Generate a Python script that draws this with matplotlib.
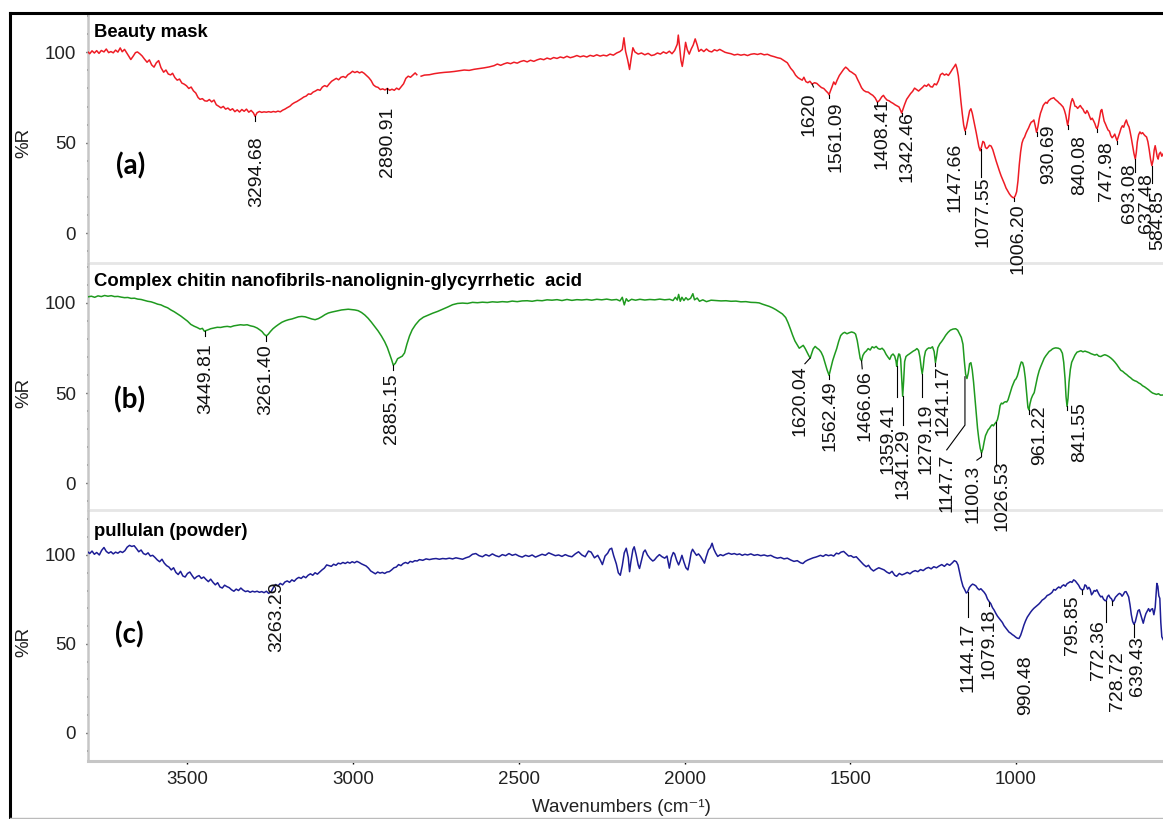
import numpy as np
import matplotlib
matplotlib.use('Agg')
import matplotlib.pyplot as plt
from matplotlib.lines import Line2D
from matplotlib.ticker import MultipleLocator, FixedLocator

nan = np.nan

# ---- spectra: (wavenumber cm-1, %R) ----
mask = [(3802,100.5),(3795,99.2),(3788,100.8),(3781,99.6),(3774,100.9),(3767,99.4),(3760,101.0),(3752,100.2),
        (3745,101.8),(3738,99.8),(3731,100.4),(3724,99.7),(3717,101.2),(3710,100.1),(3703,102.4),(3697,100.3),
        (3690,101.6),(3683,99.6),(3676,97.5),(3671,96.0),(3664,97.8),(3657,99.8),(3651,100.2),(3644,99.2),
        (3637,98.0),(3630,96.3),(3622,94.5),(3615,95.8),(3608,93.0),(3601,91.8),(3594,94.2),(3587,95.4),
        (3580,91.5),(3572,89.0),(3565,90.2),(3558,88.0),(3551,87.5),(3545,88.4),(3538,86.0),(3531,84.6),
        (3524,85.2),(3517,83.0),(3510,82.4),(3503,81.5),(3496,80.0),(3489,80.8),(3482,78.7),(3475,77.5),
        (3468,75.0),(3462,74.0),(3455,74.4),(3448,73.2),(3441,73.0),(3434,73.9),(3427,72.6),(3420,73.6),
        (3413,71.0),(3406,70.2),(3399,69.3),(3392,70.1),(3385,68.6),(3378,69.2),(3371,68.0),(3364,68.8),
        (3357,67.2),(3350,68.2),(3343,67.0),(3336,68.4),(3329,67.4),(3322,68.6),(3315,66.9),(3308,67.9),
        (3301,66.5),(3296,64.6),(3290,66.6),(3283,67.3),(3276,66.8),(3269,67.1),(3262,66.9),(3255,67.2),
        (3248,66.9),(3241,67.3),(3234,67.0),(3227,67.5),(3220,67.1),(3213,68.0),(3206,68.6),(3199,69.4),
        (3191,70.2),(3184,71.4),(3177,72.2),(3170,72.8),(3163,73.6),(3156,74.4),(3149,75.3),(3142,75.8),
        (3135,77.0),(3128,76.8),(3121,78.0),(3114,78.6),(3107,79.4),(3100,79.0),(3093,80.8),(3086,81.6),
        (3079,81.0),(3072,82.6),(3065,84.0),(3058,84.8),(3051,85.6),(3044,84.8),(3037,86.2),(3030,86.6),
        (3023,86.0),(3016,87.6),(3009,88.4),(3002,89.5),(2995,88.8),(2988,89.4),(2981,88.6),(2974,89.2),
        (2967,88.4),(2960,87.2),(2953,86.0),(2946,84.4),(2939,82.0),(2932,81.0),(2925,80.6),(2918,79.4),
        (2911,79.8),(2904,79.2),(2897,80.0),(2890,79.0),(2883,79.6),(2876,79.0),(2869,80.2),(2862,79.4),
        (2855,81.0),(2848,82.6),(2841,85.6),(2834,86.8),(2827,86.2),(2820,87.4),(2813,88.6),(2808,87.6),
        (2804,nan),(2795,86.8),(2785,87.4),(2770,87.6),(2755,88.2),(2740,88.6),(2725,88.9),(2710,89.1),
        (2695,89.4),(2680,89.8),(2665,90.2),(2650,90.0),(2635,90.6),(2620,91.0),(2605,91.4),(2590,91.9),
        (2575,92.6),(2565,93.5),(2555,92.8),(2545,93.6),(2535,94.2),(2525,93.7),(2515,94.5),(2505,94.0),
        (2495,94.9),(2485,95.4),(2475,94.7),(2465,95.6),(2455,95.0),(2445,95.8),(2435,96.4),(2425,95.9),
        (2415,96.8),(2405,96.2),(2395,97.1),(2385,96.6),(2375,97.4),(2365,96.9),(2355,97.8),(2345,97.0),
        (2335,97.5),(2325,98.2),(2315,97.5),(2305,98.0),(2295,97.4),(2285,98.3),(2275,97.8),(2265,98.6),
        (2255,97.9),(2245,98.4),(2235,98.0),(2225,99.0),(2215,98.4),(2205,99.6),(2195,100.4),(2188,101.5),
        (2183,108.0),(2178,100.5),(2172,96.0),(2166,90.5),(2161,96.8),(2156,102.5),(2150,100.2),(2140,99.0),
        (2130,99.6),(2120,98.6),(2110,99.4),(2100,98.2),(2091,98.6),(2082,99.6),(2073,99.0),(2064,100.2),
        (2055,99.4),(2046,100.6),(2038,99.2),(2030,101.0),(2022,104.5),(2019,109.5),(2015,103.0),(2011,95.5),
        (2007,92.2),(2002,98.0),(1997,105.5),(1992,101.5),(1986,99.0),(1980,101.8),(1974,104.0),(1968,107.4),
        (1962,104.0),(1957,100.5),(1950,101.6),(1942,100.4),(1934,101.8),(1926,100.6),(1918,100.2),(1910,101.4),
        (1902,100.8),(1894,101.6),(1886,100.8),(1878,100.0),(1870,99.6),(1860,99.2),(1850,98.5),(1840,98.9),
        (1830,98.4),(1820,98.8),(1810,98.2),(1800,98.9),(1790,99.2),(1780,98.8),(1770,99.3),(1760,98.6),
        (1750,98.9),(1740,98.1),(1730,97.6),(1720,97.0),(1710,96.6),(1700,95.4),(1690,94.2),(1680,91.2),
        (1672,89.5),(1665,87.3),(1658,86.0),(1651,85.2),(1645,84.6),(1640,86.2),(1634,83.8),(1628,83.2),
        (1622,84.0),(1615,82.4),(1608,83.2),(1601,82.8),(1594,81.6),(1587,80.5),(1580,80.0),(1573,78.6),
        (1567,77.5),(1564,76.5),(1560,78.6),(1555,81.0),(1550,83.6),(1545,82.2),(1540,84.5),(1533,87.2),
        (1526,89.0),(1520,90.6),(1514,91.8),(1508,90.9),(1502,89.6),(1496,89.0),(1490,88.2),(1484,87.4),
        (1478,85.0),(1472,82.8),(1466,80.4),(1460,79.0),(1453,78.2),(1446,78.0),(1439,77.0),(1432,76.2),
        (1425,74.8),(1418,72.4),(1412,73.4),(1405,75.4),(1400,76.2),(1395,74.8),(1389,73.6),(1383,73.2),
        (1377,72.4),(1371,71.8),(1365,71.0),(1359,70.4),(1353,69.8),(1348,67.8),(1345,66.4),(1341,68.6),
        (1336,71.2),(1330,74.0),(1324,75.6),(1318,77.2),(1312,78.4),(1306,80.2),(1300,79.4),(1294,78.6),
        (1288,79.6),(1282,80.6),(1276,81.8),(1270,81.2),(1264,82.4),(1258,81.0),(1252,80.8),(1246,82.6),
        (1240,82.0),(1234,84.2),(1228,87.6),(1222,88.4),(1216,87.4),(1210,88.0),(1204,87.2),(1198,88.8),
        (1192,90.6),(1186,92.2),(1182,93.4),(1178,91.0),(1174,87.0),(1170,80.2),(1166,72.6),(1162,66.0),
        (1158,60.0),(1154,56.6),(1150,58.4),(1145,63.0),(1140,67.6),(1136,68.8),(1132,66.4),(1128,62.8),
        (1124,59.4),(1120,55.6),(1116,51.6),(1112,47.8),(1108,45.6),(1104,47.8),(1100,50.8),(1096,50.2),
        (1092,47.4),(1088,46.8),(1084,47.6),(1080,48.6),(1075,48.2),(1070,46.2),(1065,43.0),(1060,40.0),
        (1055,37.2),(1050,34.4),(1045,31.8),(1040,29.6),(1035,27.4),(1030,25.0),(1025,23.4),(1020,21.8),
        (1015,20.6),(1010,19.8),(1006,19.6),(1002,20.8),(998,23.0),(994,29.0),(990,38.0),(986,45.0),
        (982,49.8),(978,52.0),(974,53.2),(970,55.2),(966,56.8),(962,58.2),(958,60.0),(954,61.4),
        (950,61.8),(946,62.6),(942,59.4),(938,55.8),(934,58.6),(930,63.2),(926,66.4),(922,68.4),
        (918,70.6),(914,71.6),(910,72.4),(906,71.8),(902,73.2),(898,73.8),(894,74.4),(890,74.6),
        (886,74.9),(882,74.0),(878,73.4),(874,72.8),(870,72.0),(866,71.4),(862,70.6),(858,69.8),
        (854,68.0),(850,65.4),(846,61.4),(844,59.6),(841,63.0),(838,68.0),(834,72.2),(830,74.4),
        (826,72.8),(822,70.2),(818,70.0),(814,69.0),(810,69.8),(806,70.6),(802,69.4),(798,68.6),
        (794,67.0),(790,66.2),(786,67.8),(782,66.6),(778,64.6),(774,62.8),(770,63.6),(766,62.2),
        (762,60.6),(758,58.4),(755,57.8),(752,59.6),(748,63.6),(744,67.8),(741,68.4),(738,65.6),
        (734,62.0),(730,60.4),(726,58.6),(722,57.0),(718,56.4),(714,54.0),(710,52.8),(706,53.6),
        (702,54.8),(698,52.6),(695,51.2),(691,53.4),(687,55.6),(683,58.0),(679,59.4),(675,58.6),
        (671,61.0),(667,62.6),(663,60.2),(659,58.8),(656,56.4),(652,52.6),(648,48.4),(644,44.0),
        (640,41.0),(637,44.6),(634,50.4),(630,54.4),(626,56.0),(622,55.0),(618,55.6),(614,54.6),
        (610,53.8),(606,53.2),(602,50.6),(598,46.2),(594,41.0),(590,37.4),(586,40.6),(583,46.0),
        (580,48.4),(577,45.6),(574,42.4),(571,41.0),(568,43.8),(564,44.8),(560,42.6),(556,43.9)]

chitin = [(3802,103.2),(3790,103.6),(3780,103.0),(3770,103.8),(3760,103.4),(3750,104.0),(3740,103.6),(3730,103.9),
          (3720,103.4),(3710,103.5),(3700,103.1),(3690,102.8),(3680,102.9),(3670,102.4),(3660,102.5),(3650,102.0),
          (3640,101.8),(3630,101.3),(3620,100.8),(3610,100.5),(3600,99.9),(3590,99.2),(3580,98.8),(3570,97.9),
          (3560,97.2),(3550,96.0),(3540,95.0),(3530,93.8),(3520,92.6),(3510,91.2),(3500,89.8),(3490,88.0),
          (3480,87.0),(3470,86.2),(3462,85.4),(3455,85.8),(3449,84.2),(3444,84.6),(3438,85.0),(3430,85.6),
          (3420,86.0),(3410,86.4),(3400,86.3),(3390,86.7),(3380,86.9),(3370,86.6),(3360,87.2),(3350,87.5),
          (3340,87.8),(3330,87.6),(3320,87.8),(3310,87.2),(3300,86.8),(3290,86.0),(3282,85.0),(3275,84.0),
          (3268,82.4),(3262,81.6),(3256,82.6),(3250,84.0),(3242,85.6),(3234,86.8),(3225,88.0),(3215,89.2),
          (3205,90.0),(3195,90.6),(3185,91.0),(3175,91.6),(3165,92.2),(3155,92.4),(3145,92.2),(3135,91.6),
          (3125,91.0),(3115,90.6),(3105,91.2),(3095,92.2),(3085,93.4),(3075,94.3),(3065,94.8),(3055,95.2),
          (3045,95.6),(3035,96.0),(3025,96.2),(3015,96.4),(3005,96.2),(2995,96.0),(2985,95.6),(2975,94.6),
          (2965,93.2),(2955,91.4),(2945,89.2),(2935,86.8),(2925,84.4),(2915,81.6),(2905,78.4),(2897,75.2),
          (2890,71.6),(2884,68.4),(2879,65.4),(2873,66.4),(2866,69.0),(2860,69.6),(2852,70.4),(2845,72.2),
          (2838,77.0),(2830,81.6),(2822,85.0),(2812,87.8),(2800,90.4),(2788,92.0),(2775,93.0),(2760,94.2),
          (2745,95.2),(2730,96.4),(2715,97.6),(2700,98.9),(2685,99.6),(2670,99.8),(2655,99.6),(2640,100.2),
          (2625,100.0),(2610,100.3),(2595,100.1),(2580,100.5),(2565,100.3),(2550,100.6),(2535,100.4),(2520,100.9),
          (2505,100.6),(2490,101.0),(2475,101.1),(2460,100.8),(2445,101.3),(2430,101.1),(2415,101.6),(2400,101.4),
          (2385,101.7),(2370,101.2),(2355,101.8),(2340,101.3),(2325,101.7),(2310,101.5),(2295,101.8),(2280,101.4),
          (2265,101.9),(2250,101.6),(2235,102.0),(2220,101.5),(2205,101.8),(2195,101.0),(2188,103.0),(2182,98.8),
          (2176,102.2),(2170,100.8),(2160,101.9),(2148,101.4),(2135,101.9),(2120,101.5),(2105,101.8),(2090,101.6),
          (2075,102.0),(2060,101.6),(2045,101.9),(2035,101.2),(2028,103.0),(2022,101.5),(2018,104.6),(2013,100.8),
          (2008,103.0),(2002,101.2),(1996,102.8),(1990,101.6),(1982,102.4),(1975,105.0),(1970,101.6),(1962,102.6),
          (1955,100.8),(1945,101.6),(1934,100.6),(1920,101.4),(1905,101.2),(1890,101.0),(1875,101.1),(1860,100.8),
          (1845,100.9),(1830,100.5),(1815,100.6),(1800,100.2),(1785,100.1),(1775,99.9),(1765,99.2),(1755,98.6),
          (1745,98.0),(1735,97.2),(1725,96.2),(1715,95.0),(1705,93.8),(1695,91.8),(1688,89.0),(1681,85.6),
          (1674,82.0),(1667,78.8),(1660,76.6),(1654,74.8),(1648,75.6),(1642,76.4),(1636,74.6),(1630,72.4),
          (1625,70.6),(1621,69.4),(1617,71.6),(1612,74.4),(1606,75.8),(1600,74.8),(1594,74.0),(1588,72.6),
          (1582,70.2),(1576,66.4),(1570,62.8),(1564,59.8),(1559,63.6),(1553,68.0),(1547,71.4),(1541,74.6),
          (1535,78.6),(1529,81.8),(1523,83.0),(1517,83.6),(1510,82.8),(1503,83.4),(1496,83.8),(1489,83.4),
          (1484,82.6),(1479,79.0),(1474,73.4),(1470,69.0),(1466,67.8),(1462,70.8),(1457,72.4),(1452,73.2),
          (1446,74.6),(1440,73.8),(1434,75.6),(1428,75.0),(1422,75.8),(1416,74.6),(1410,74.2),(1404,74.8),
          (1398,73.6),(1392,71.4),(1386,69.8),(1381,68.6),(1376,70.8),(1371,71.6),(1366,70.4),(1362,67.6),
          (1360,64.8),(1357,69.0),(1354,71.6),(1351,71.4),(1348,68.8),(1345,58.0),(1342,48.2),(1339,56.6),
          (1336,67.4),(1332,70.2),(1327,71.0),(1322,71.6),(1316,72.4),(1310,73.2),(1304,73.8),(1299,74.6),
          (1294,73.6),(1290,70.0),(1286,64.0),(1283,60.6),(1280,64.2),(1277,69.6),(1273,73.2),(1268,74.4),
          (1263,75.0),(1258,74.8),(1252,75.6),(1247,73.0),(1243,66.8),(1240,70.0),(1236,75.0),(1230,77.2),
          (1224,78.6),(1218,80.2),(1212,82.0),(1205,83.6),(1198,84.8),(1190,85.4),(1182,85.6),(1176,84.8),
          (1170,82.6),(1165,80.8),(1160,77.0),(1156,68.0),(1152,60.4),(1148,58.0),(1144,61.0),(1140,66.2),
          (1136,66.8),(1132,62.8),(1128,56.0),(1124,47.4),(1120,38.6),(1116,30.4),(1112,24.2),(1108,19.4),
          (1104,16.8),(1100,19.0),(1096,23.0),(1092,26.4),(1088,28.0),(1084,29.6),(1080,30.4),(1076,31.6),
          (1072,32.4),(1068,31.8),(1064,33.0),(1060,33.8),(1056,35.2),(1052,38.4),(1048,43.0),(1044,44.4),
          (1040,44.0),(1036,44.8),(1032,45.2),(1028,45.0),(1024,46.2),(1020,48.6),(1016,51.0),(1012,53.4),
          (1008,55.2),(1004,57.0),(1000,57.8),(996,59.4),(992,62.0),(988,65.0),(984,67.2),(980,66.8),
          (976,64.0),(972,58.4),(968,50.0),(964,42.0),(961,40.6),(958,43.8),(954,46.8),(950,48.6),
          (945,50.2),(940,54.6),(935,59.0),(930,62.4),(925,64.8),(920,67.0),(915,69.2),(910,70.6),
          (905,71.8),(900,73.0),(895,73.6),(890,74.4),(885,74.8),(880,75.0),(872,74.8),(866,74.2),
          (860,72.0),(856,67.0),(852,58.0),(849,48.0),(846,42.6),(843,47.0),(840,56.0),(836,63.0),
          (832,67.0),(827,69.0),(822,71.0),(816,72.6),(810,73.0),(804,73.4),(798,72.8),(792,73.2),
          (786,72.8),(780,72.4),(774,71.8),(768,71.4),(762,71.0),(756,71.4),(750,70.4),(744,70.2),
          (738,70.8),(732,71.2),(726,70.8),(720,70.2),(714,69.4),(708,68.4),(702,67.2),(696,65.8),
          (690,64.2),(684,62.6),(678,62.0),(672,61.0),(666,60.2),(660,59.2),(654,58.4),(648,57.4),
          (642,56.8),(636,56.4),(630,55.6),(624,55.0),(618,54.0),(612,53.4),(606,52.6),(600,51.8),
          (594,50.8),(588,50.0),(582,49.6),(576,49.2),(570,49.6),(564,48.8),(556,48.9)]

pullulan = [(3802,101.9),(3795,100.8),(3788,102.2),(3781,100.4),(3774,101.4),(3766,100.0),(3759,102.6),(3752,104.2),
            (3745,102.0),(3738,101.0),(3731,101.8),(3724,100.6),(3717,101.6),(3710,101.0),(3703,102.0),(3696,101.4),
            (3689,102.4),(3682,104.4),(3675,105.4),(3668,104.8),(3661,105.2),(3654,103.6),(3647,101.8),(3640,102.8),
            (3633,100.8),(3626,100.2),(3619,101.2),(3612,99.4),(3605,99.8),(3598,98.6),(3591,97.2),(3584,96.2),
            (3577,97.6),(3570,95.4),(3563,94.0),(3556,93.2),(3549,91.6),(3542,92.8),(3535,90.2),(3528,89.0),
            (3521,90.8),(3514,88.2),(3507,87.6),(3500,89.6),(3493,90.4),(3486,88.4),(3479,86.6),(3472,87.8),
            (3465,88.4),(3458,86.8),(3451,87.6),(3444,86.2),(3437,85.0),(3430,86.4),(3423,84.6),(3416,83.2),
            (3409,84.4),(3402,82.0),(3395,81.4),(3388,83.0),(3381,82.2),(3374,81.6),(3367,80.4),(3360,79.6),
            (3353,80.8),(3346,80.0),(3339,81.4),(3332,80.2),(3325,79.4),(3318,79.8),(3311,79.0),(3304,79.6),
            (3297,79.2),(3290,79.6),(3283,79.0),(3276,79.4),(3269,78.8),(3262,79.6),(3255,78.4),(3248,79.2),
            (3241,81.6),(3234,83.4),(3227,82.6),(3220,84.0),(3213,83.2),(3206,84.8),(3199,85.4),(3192,84.6),
            (3185,86.0),(3178,85.2),(3171,86.6),(3164,87.4),(3157,86.8),(3150,88.0),(3143,87.2),(3136,88.6),
            (3129,89.4),(3122,88.6),(3115,90.0),(3108,89.2),(3101,90.4),(3094,91.6),(3087,92.6),(3080,94.4),
            (3073,94.0),(3066,93.6),(3059,94.8),(3052,94.2),(3045,95.4),(3038,95.0),(3031,95.8),(3024,95.2),
            (3017,96.0),(3010,95.4),(3003,96.2),(2996,95.6),(2989,96.4),(2982,95.8),(2975,95.0),(2968,94.4),
            (2961,93.8),(2954,92.6),(2947,91.0),(2940,90.2),(2933,89.4),(2926,90.4),(2919,89.8),(2912,90.2),
            (2905,89.6),(2898,90.4),(2891,90.6),(2884,91.6),(2877,92.8),(2870,93.2),(2863,94.6),(2856,94.0),
            (2849,95.2),(2842,95.8),(2835,95.2),(2828,96.4),(2821,96.0),(2814,96.8),(2807,96.6),(2800,97.4),
            (2790,97.0),(2780,97.8),(2770,97.4),(2760,97.8),(2750,98.0),(2740,97.6),(2730,98.0),(2720,97.8),
            (2710,98.2),(2700,97.8),(2690,98.4),(2680,98.0),(2670,97.6),(2660,98.4),(2650,99.0),(2640,100.4),
            (2630,100.8),(2620,99.6),(2610,99.0),(2600,100.2),(2590,99.4),(2580,100.6),(2570,99.6),(2560,99.0),
            (2550,100.2),(2540,99.6),(2530,100.8),(2520,99.8),(2510,100.4),(2500,99.4),(2490,98.8),(2480,99.8),
            (2470,99.2),(2460,100.0),(2450,98.8),(2440,99.6),(2430,100.4),(2420,99.8),(2410,101.2),(2400,100.4),
            (2390,99.6),(2380,100.0),(2370,99.2),(2360,100.2),(2350,99.4),(2340,99.0),(2330,100.6),(2320,101.8),
            (2310,100.0),(2300,99.0),(2290,102.2),(2282,101.6),(2272,98.4),(2262,99.8),(2254,97.0),(2248,94.6),
            (2240,99.4),(2232,101.0),(2226,103.2),(2220,103.8),(2214,99.6),(2206,95.0),(2200,90.0),(2194,88.6),
            (2188,94.0),(2182,101.2),(2176,103.8),(2170,98.6),(2166,90.6),(2162,96.2),(2156,103.0),(2152,104.6),
            (2146,100.0),(2140,94.4),(2136,92.4),(2130,97.0),(2124,101.6),(2119,102.8),(2112,100.0),(2104,98.0),
            (2096,96.6),(2091,97.2),(2084,98.8),(2076,100.2),(2068,99.0),(2060,98.2),(2053,99.4),(2046,92.6),
            (2040,98.6),(2034,101.4),(2030,100.6),(2024,97.0),(2018,94.4),(2013,96.8),(2008,99.8),(2002,96.0),
            (1996,92.8),(1990,91.6),(1985,96.0),(1980,101.4),(1976,103.2),(1970,101.4),(1964,99.8),(1958,100.6),
            (1952,99.2),(1946,97.4),(1940,95.4),(1935,98.8),(1928,102.8),(1922,104.2),(1917,106.6),(1912,103.4),
            (1906,101.0),(1900,99.2),(1892,100.2),(1884,99.6),(1876,100.4),(1867,101.0),(1858,100.4),(1850,100.8),
            (1842,100.2),(1834,100.6),(1826,99.8),(1818,100.4),(1810,100.0),(1800,100.6),(1790,99.8),(1780,100.2),
            (1770,99.6),(1760,100.0),(1750,99.4),(1740,99.8),(1730,98.8),(1720,98.2),(1710,98.6),(1700,97.8),
            (1690,98.2),(1680,97.2),(1670,96.4),(1660,96.8),(1650,95.6),(1643,95.2),(1636,96.4),(1628,97.2),
            (1620,97.8),(1612,98.4),(1604,98.8),(1598,99.2),(1590,99.8),(1582,99.2),(1574,100.2),(1566,99.6),
            (1558,100.0),(1550,99.4),(1542,101.0),(1535,100.6),(1528,101.6),(1520,102.0),(1512,100.6),(1505,99.4),
            (1498,99.6),(1490,98.6),(1482,99.0),(1475,97.6),(1468,96.2),(1460,94.6),(1452,93.4),(1445,94.2),
            (1438,92.2),(1430,91.0),(1422,92.0),(1414,92.8),(1406,92.2),(1398,91.6),(1390,90.4),(1382,89.6),
            (1374,90.8),(1366,88.6),(1360,88.0),(1352,89.6),(1344,88.8),(1336,89.4),(1328,90.2),(1320,89.4),
            (1312,90.6),(1304,91.2),(1296,90.6),(1288,91.8),(1280,91.2),(1272,92.4),(1264,93.0),(1256,92.2),
            (1248,93.4),(1240,92.8),(1232,93.8),(1224,94.6),(1216,93.6),(1208,95.0),(1200,94.2),(1192,95.6),
            (1186,96.8),(1180,96.2),(1175,94.4),(1170,90.2),(1165,85.8),(1160,82.4),(1155,80.6),(1150,78.6),
            (1146,79.2),(1141,81.6),(1136,82.8),(1131,83.6),(1126,83.2),(1121,82.6),(1116,81.2),(1111,80.4),
            (1106,81.0),(1101,80.0),(1096,79.0),(1091,77.6),(1086,75.2),(1081,73.8),(1076,72.6),(1071,70.4),
            (1066,69.0),(1061,67.2),(1056,65.6),(1051,64.4),(1046,63.2),(1041,62.0),(1036,60.2),(1031,59.0),
            (1026,57.8),(1021,56.6),(1016,56.0),(1011,55.2),(1006,54.6),(1001,53.8),(996,53.2),(991,53.0),
            (986,54.8),(981,57.6),(976,60.6),(971,63.0),(966,65.0),(961,66.4),(956,67.8),(951,69.0),
            (946,70.0),(941,70.8),(936,71.6),(931,72.4),(926,73.4),(921,74.6),(916,75.2),(911,76.0),
            (906,77.2),(901,77.6),(896,78.2),(891,79.0),(886,80.6),(881,80.2),(876,81.2),(871,82.0),
            (866,81.4),(861,82.6),(856,83.2),(851,82.4),(846,83.8),(841,84.4),(836,85.0),(831,84.6),
            (826,86.0),(821,85.4),(816,84.2),(811,83.0),(806,81.2),(801,80.4),(796,80.6),(792,83.2),
            (788,82.6),(784,80.8),(780,81.8),(776,80.6),(772,77.6),(768,78.6),(764,80.0),(760,79.6),
            (756,80.4),(752,78.8),(748,77.4),(744,76.4),(740,76.8),(736,75.2),(732,74.4),(728,74.2),
            (724,76.6),(720,77.4),(716,76.0),(712,75.4),(708,73.8),(704,74.6),(700,76.2),(696,77.0),
            (692,77.8),(688,78.4),(684,78.0),(680,76.8),(676,77.8),(672,79.2),(668,79.4),(664,78.0),
            (660,76.4),(656,72.0),(652,66.4),(648,62.6),(644,61.0),(640,62.4),(636,65.4),(632,68.6),
            (628,69.2),(624,66.6),(620,64.0),(616,61.6),(612,64.6),(608,67.0),(604,68.4),(600,69.8),
            (596,68.2),(592,69.4),(588,69.8),(584,66.4),(580,70.4),(577,79.0),(575,84.0),(572,82.4),
            (569,77.0),(566,75.6),(563,62.0),(560,54.0),(556,52.4)]

# ---- peak labels: text, leader polyline (wn, %R), text top (wn, %R) ----
mask_labels = ['3294.68', '2890.91', '1620', '1561.09', '1408.41', '1342.46', '1147.66', '1077.55',
               '1006.20', '930.69', '840.08', '747.98', '693.08', '637.48', '584.85']
mask_leads = [[(3296, 64.6), (3296, 62.0)], [(2897, 80.0), (2897, 77.6)], [(1615, 82.4), (1611, 80.8)],
              [(1564, 76.5), (1564, 74.6)], [(1418, 72.4), (1418, 70.8)], [(1345, 66.4), (1345, 64.8)],
              [(1154, 56.6), (1154, 54.8)], [(1106, 46.4), (1106, 31.3)], [(1007, 19.6), (1007, 17.6)],
              [(937, 56.2), (937, 54.0)], [(844, 59.6), (844, 57.6)], [(755, 57.8), (755, 56.0)],
              [(695, 51.2), (695, 49.4)], [(640, 41.0), (640, 34.0)], [(590, 37.4), (590, 28.0)]]
mask_text = [(3292, 53.5), (2897, 70.2), (1626, 77.6), (1542, 72.9), (1405, 74.8), (1328, 67.4),
             (1184, 49.8), (1099, 31.3), (993, 16.5), (903, 60.0), (807, 54.4), (728, 50.7),
             (656, 38.7), (606, 33.0), (571, 23.9)]

chitin_labels = ['3449.81', '3261.40', '2885.15', '1620.04', '1562.49', '1466.06', '1359.41', '1341.29',
                 '1279.19', '1241.17', '1147.7', '1100.3', '1026.53', '961.22', '841.55']
chitin_leads = [[(3446, 84.4), (3446, 81.6)], [(3262, 81.6), (3262, 79.0)], [(2879, 65.4), (2879, 62.6)],
                [(1621, 69.4), (1637, 66.2)], [(1564, 59.8), (1564, 57.6)], [(1466, 67.8), (1464, 63.4)],
                [(1360, 64.8), (1360, 48.0)], [(1342, 48.2), (1342, 32.4)], [(1283, 60.6), (1283, 48.0)],
                [(1243, 66.8), (1243, 65.0)], [(1154, 59.0), (1154, 32.2), (1209, 18.5)],
                [(1104, 16.8), (1104, 14.6), (1118, 12.8)], [(1061, 33.8), (1061, 10.9)],
                [(961, 40.6), (961, 38.6)], [(846, 42.6), (846, 40.6)]]
chitin_text = [(3444, 77.6), (3263, 76.8), (2885, 60.8), (1652, 65.6), (1561, 57.0), (1456, 62.8),
               (1385, 44.3), (1340, 30.4), (1273, 44.3), (1221, 65.6), (1209, 16.5), (1129, 10.0),
               (1043, 12.8), (928, 43.3), (807, 45.2)]

pullulan_labels = ['3263.29', '1144.17', '1079.18', '990.48', '795.85', '772.36', '728.72', '639.43']
pullulan_leads = [[], [(1146, 79.2), (1146, 65.3)], [(1082, 73.6), (1082, 71.4)], [],
                  [(800, 80.4), (800, 78.0)], [(728, 74.2), (728, 62.5)], [(709, 74.0), (709, 71.8)],
                  [(644, 61.0), (644, 54.0)]]
pullulan_text = [(3231, 85.0), (1146, 62.0), (1082, 70.0), (970, 43.7), (829, 77.5), (751, 63.4),
                 (695, 45.6), (633, 54.0)]

titles = ['Beauty mask', 'Complex chitin nanofibrils-nanolignin-glycyrrhetic  acid', 'pullulan (powder)']
tags = ['(a)', '(b)', '(c)']
x_ticks = [3500, 3000, 2500, 2000, 1500, 1000]
y_ticks = [0, 50, 100]

plt.rcParams['font.family'] = ['Liberation Sans', 'DejaVu Sans']

W, H = 1163, 819
fig = plt.figure(figsize=(W / 100, H / 100), dpi=100)


def fy(py):
    return 1 - py / H


left = 87.5 / W
# (top px, bottom px, ylim) for each panel
layout = [(13, 263, (-16.4, 121.7)), (263, 510, (-14.8, 122.0)), (510, 761, (-15.9, 125.3))]
colors = ['#ee1c25', '#1f9a1f', '#1d1d96']
series = [mask, chitin, pullulan]
all_labels = [mask_labels, chitin_labels, pullulan_labels]
all_leads = [mask_leads, chitin_leads, pullulan_leads]
all_text = [mask_text, chitin_text, pullulan_text]
tag_pos = [(3671, 37.4), (3674, 46.1), (3676, 55.0)]
title_y = [110.8, 111.6, 113.1]
ylabel_py = [143, 393, 642]

for i in range(3):
    top, bot, ylim = layout[i]
    ax = fig.add_axes([left, fy(bot), 1 - left, (bot - top) / H])
    ax.set_facecolor('none')
    wn = [p[0] for p in series[i]]
    r = [p[1] for p in series[i]]
    ax.plot(wn, r, color=colors[i], lw=1.1, zorder=3)
    ax.set_xlim(3801.7, 556.4)
    ax.set_ylim(*ylim)

    for s in ['top', 'right']:
        ax.spines[s].set_visible(False)
    ax.spines['left'].set_color('#c6c6c6')
    ax.spines['left'].set_linewidth(1.8)
    if i < 2:
        ax.spines['bottom'].set_color('#e6e6e6')
        ax.spines['bottom'].set_linewidth(2.0)
        ax.tick_params(axis='x', which='both', bottom=False, labelbottom=False)
    else:
        ax.spines['bottom'].set_color('#c6c6c6')
        ax.spines['bottom'].set_linewidth(2.2)
        ax.xaxis.set_major_locator(FixedLocator(x_ticks))
        ax.xaxis.set_minor_locator(MultipleLocator(100))
        ax.tick_params(axis='x', which='major', length=2.2, width=1, color='black',
                       labelsize=13.5, pad=5, labelcolor='#222222')
        ax.tick_params(axis='x', which='minor', length=1.0, width=1.2, color='#333333')

    ax.yaxis.set_major_locator(FixedLocator(y_ticks))
    ax.yaxis.set_minor_locator(MultipleLocator(10))
    ax.tick_params(axis='y', which='major', length=1.8, width=1, color='black',
                   labelsize=13.5, pad=6.5, labelcolor='#222222')
    ax.tick_params(axis='y', which='minor', length=1.0, width=1.2, color='#333333')

    ax.text(3783, title_y[i], titles[i], fontsize=13.3, fontweight='bold', ha='left', va='center')
    ax.text(tag_pos[i][0], tag_pos[i][1], tags[i], fontsize=20, fontweight='bold',
            family=['Lato', 'DejaVu Sans'], ha='center', va='center')

    for lab, lead, (tx, ty) in zip(all_labels[i], all_leads[i], all_text[i]):
        if lead:
            ax.plot([p[0] for p in lead], [p[1] for p in lead], color='black', lw=0.8,
                    zorder=4, clip_on=False)
        ax.text(tx, ty, lab, rotation=90, fontsize=14, ha='center', va='top',
                color='#111111', zorder=5, clip_on=False)

    fig.text(23.7 / W, fy(ylabel_py[i]), '%R', rotation=90, fontsize=13.5,
             ha='center', va='center', color='#222222')

# x-axis title with a small raised "-1"
fig.text(621.5 / W, fy(808), 'Wavenumbers (cm\u207b\u00b9)', fontsize=13.5,
         ha='center', va='center', color='#222222')

# outer black frame (left and top edges; right side is cut off)
fig.add_artist(Line2D([10 / W, 10 / W], [fy(12.5), 0], transform=fig.transFigure,
                      color='black', lw=2.2))
fig.add_artist(Line2D([10 / W, 1], [fy(12.5), fy(12.5)], transform=fig.transFigure,
                      color='black', lw=2.2))
fig.add_artist(Line2D([10 / W, 1], [fy(817.5), fy(817.5)], transform=fig.transFigure,
                      color='#bbbbbb', lw=1.0))

fig.savefig('out.png', dpi=100)
